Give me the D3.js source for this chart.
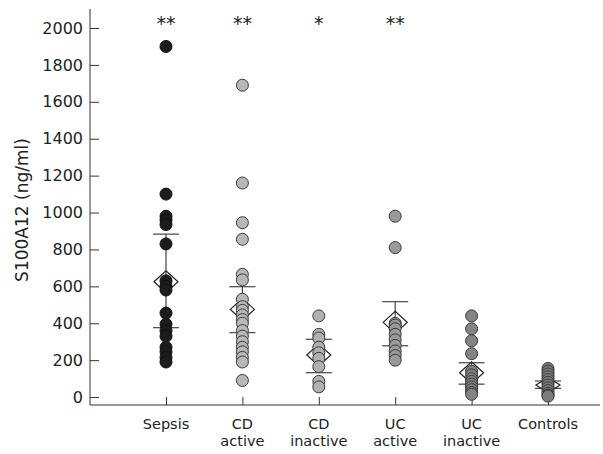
<!DOCTYPE html>
<html>
<head>
<meta charset="utf-8">
<script src="https://cdn.jsdelivr.net/npm/d3@7"></script>
<style>
  body { margin: 0; background: #fff; }
  svg text { font-family: "DejaVu Sans", sans-serif; fill: #222; }
</style>
</head>
<body>
<div id="chart"></div>
<script>
// groups along the x axis
var groups = ["Sepsis", "CD active", "CD inactive", "UC active", "UC inactive", "Controls"];
var labelTop = ["Sepsis", "CD", "CD", "UC", "UC", "Controls"];
var labelBottom = ["", "active", "inactive", "active", "inactive", ""];
var stars = ["**", "**", "*", "**", "", ""];

// individual values (ng/ml)
var sepsis = [1900, 1100, 980, 960, 935, 830, 630, 600, 580, 455, 395, 360, 330, 270, 245, 215, 190];
var cdActive = [1690, 1160, 945, 855, 665, 635, 530, 490, 470, 445, 420, 400, 360, 330, 300, 270, 245, 215, 190, 90];
var cdInactive = [440, 340, 320, 270, 240, 210, 165, 85, 55];
var ucActive = [980, 810, 400, 390, 370, 340, 310, 280, 250, 225, 200];
var ucInactive = [440, 370, 305, 235, 140, 120, 100, 85, 70, 55, 40, 25, 15];
var controls = [155, 140, 125, 110, 95, 80, 65, 50, 35, 20, 10, 5];
var values = [sepsis, cdActive, cdInactive, ucActive, ucInactive, controls];

// mean and error bar ends
var means = [625, 475, 228, 405, 132, 65];
var upper = [883, 598, 313, 517, 186, 87];
var lower = [376, 349, 132, 278, 70, 47];

var yTicks = [0, 200, 400, 600, 800, 1000, 1200, 1400, 1600, 1800, 2000];
var fills = ["#1c1c1c", "#b8b8b8", "#b0b0b0", "#9a9a9a", "#848484", "#7c7c7c"];

var width = 603, height = 454;
var svg = d3.select("#chart").append("svg")
    .attr("width", width)
    .attr("height", height);

var x = d3.scalePoint()
    .domain(groups)
    .range([166, 548]);

var y = d3.scaleLinear()
    .domain([-43, 2103])
    .range([405, 9]);

// y axis
var yAxis = svg.append("g")
    .attr("transform", "translate(90,0)")
    .call(d3.axisLeft(y).tickValues(yTicks).tickSize(-9).tickPadding(7).tickFormat(d3.format("d")));
yAxis.select(".domain").remove();
yAxis.selectAll(".tick line").attr("stroke", "#333");
yAxis.selectAll(".tick text").attr("font-size", 16).attr("fill", "#222").attr("font-family", "DejaVu Sans");

svg.append("line")
    .attr("x1", 90).attr("x2", 90)
    .attr("y1", 9).attr("y2", 405)
    .attr("stroke", "#333");

// x axis
var xAxis = svg.append("g")
    .attr("transform", "translate(0,405)")
    .call(d3.axisBottom(x).tickSize(-8).tickFormat(""));
xAxis.select(".domain").remove();
xAxis.selectAll(".tick line").attr("stroke", "#333");

svg.append("line")
    .attr("x1", 90).attr("x2", 600)
    .attr("y1", 405).attr("y2", 405)
    .attr("stroke", "#333");

// category labels, two rows
svg.append("g").selectAll("text")
    .data(groups)
    .enter()
    .append("text")
      .attr("x", function(d) { return x(d); })
      .attr("y", 429)
      .attr("text-anchor", "middle")
      .attr("font-size", 14.5)
      .text(function(d, i) { return labelTop[i]; });

svg.append("g").selectAll("text")
    .data(groups)
    .enter()
    .append("text")
      .attr("x", function(d) { return x(d); })
      .attr("y", 446)
      .attr("text-anchor", "middle")
      .attr("font-size", 14.5)
      .text(function(d, i) { return labelBottom[i]; });

// y axis title
svg.append("text")
    .attr("transform", "translate(28,210) rotate(-90)")
    .attr("text-anchor", "middle")
    .attr("font-size", 17)
    .text("S100A12 (ng/ml)");

// error bars
var hw = 13;
groups.forEach(function(g, i) {
  var cx = x(g);
  var bars = svg.append("g").attr("stroke", "#444").attr("stroke-width", 1.2);
  bars.append("line").attr("x1", cx).attr("x2", cx).attr("y1", y(upper[i])).attr("y2", y(lower[i]));
  bars.append("line").attr("x1", cx - hw).attr("x2", cx + hw).attr("y1", y(upper[i])).attr("y2", y(upper[i]));
  bars.append("line").attr("x1", cx - hw).attr("x2", cx + hw).attr("y1", y(lower[i])).attr("y2", y(lower[i]));

  // mean diamond
  var cy = y(means[i]);
  var dh = Math.min(11, (y(lower[i]) - y(upper[i])) / 2 + 4);
  svg.append("path")
    .attr("d", "M" + (cx - 12) + "," + cy + "L" + cx + "," + (cy - dh) + "L" + (cx + 12) + "," + cy + "L" + cx + "," + (cy + dh) + "Z")
    .attr("fill", "none")
    .attr("stroke", "#222")
    .attr("stroke-width", 1.2);

  // dots
  svg.append("g")
    .selectAll("circle")
    .data(values[i])
    .enter()
    .append("circle")
      .attr("cx", cx)
      .attr("cy", function(d) { return y(d); })
      .attr("r", 6)
      .attr("fill", fills[i])
      .attr("stroke", i == 0 ? "#111" : "#3a3a3a")
      .attr("stroke-width", 1);

  // significance stars
  svg.append("text")
    .attr("x", cx)
    .attr("y", 30)
    .attr("text-anchor", "middle")
    .attr("font-size", 19)
    .text(stars[i]);
});
</script>
</body>
</html>
